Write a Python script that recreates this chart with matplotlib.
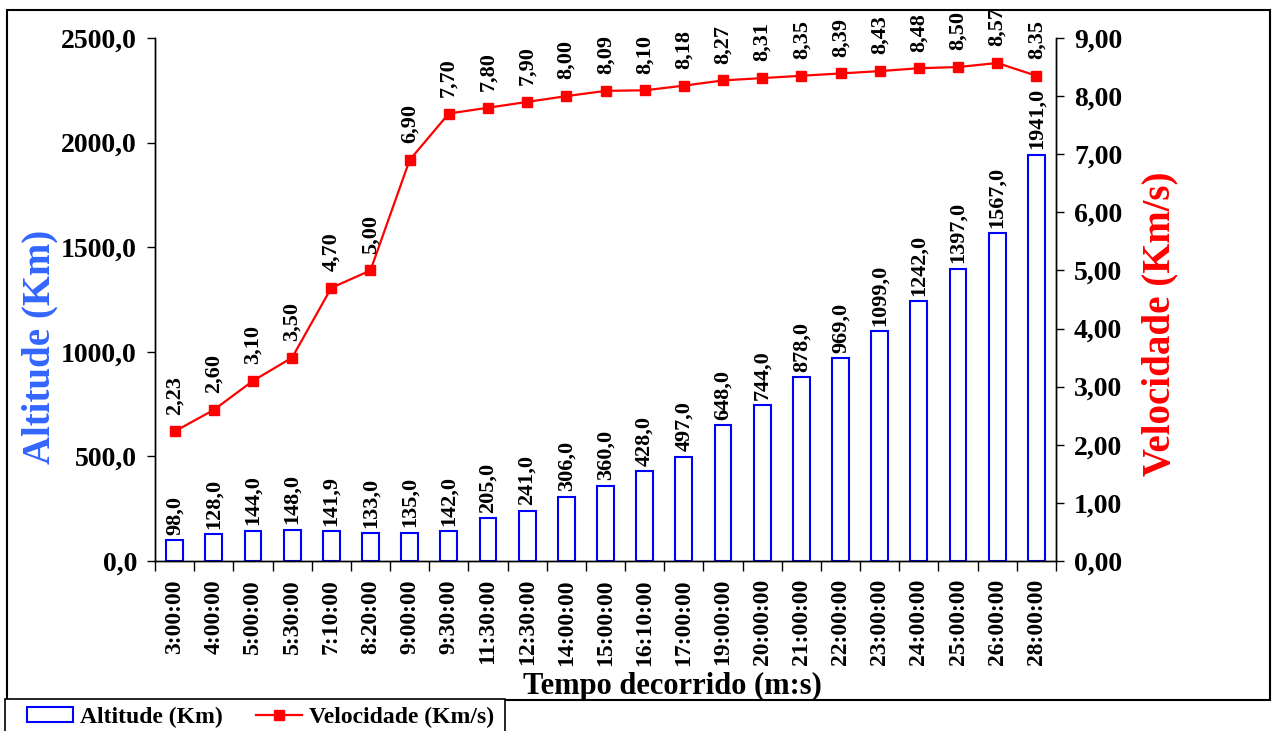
import matplotlib
matplotlib.use("Agg")
import matplotlib.pyplot as plt
from matplotlib.patches import Rectangle
from matplotlib.lines import Line2D
from matplotlib.ticker import FixedLocator, FuncFormatter

plt.rcParams['font.family'] = ['Liberation Serif', 'DejaVu Serif']
plt.rcParams['font.weight'] = 'bold'

tempos = ["3:00:00", "4:00:00", "5:00:00", "5:30:00", "7:10:00", "8:20:00", "9:00:00",
          "9:30:00", "11:30:00", "12:30:00", "14:00:00", "15:00:00", "16:10:00",
          "17:00:00", "19:00:00", "20:00:00", "21:00:00", "22:00:00", "23:00:00",
          "24:00:00", "25:00:00", "26:00:00", "28:00:00"]
altitude = [98.0, 128.0, 144.0, 148.0, 141.9, 133.0, 135.0, 142.0, 205.0, 241.0, 306.0,
            360.0, 428.0, 497.0, 648.0, 744.0, 878.0, 969.0, 1099.0, 1242.0, 1397.0,
            1567.0, 1941.0]
velocidade = [2.23, 2.60, 3.10, 3.50, 4.70, 5.00, 6.90, 7.70, 7.80, 7.90, 8.00, 8.09,
              8.10, 8.18, 8.27, 8.31, 8.35, 8.39, 8.43, 8.48, 8.50, 8.57, 8.35]

W, H = 1274, 731
fig = plt.figure(figsize=(W / 100, H / 100), dpi=100)
ax = fig.add_axes([155 / W, 1 - 561 / H, (1056 - 155) / W, (561 - 38) / H])
ax2 = ax.twinx()
ax.set_zorder(1)
ax2.set_zorder(2)
ax.patch.set_visible(False)

x = list(range(len(tempos)))
ax.bar(x, altitude, width=0.43, facecolor='white', edgecolor='#0000FF', linewidth=1.5, zorder=2)
ax.set_xlim(-0.5, len(tempos) - 0.5)
ax.set_ylim(0, 2500)
ax.set_yticks([0, 500, 1000, 1500, 2000, 2500])
ax.yaxis.set_major_formatter(FuncFormatter(lambda v, p: f"{v:.1f}".replace('.', ',')))

ax.set_xticks(x)
ax.set_xticklabels(tempos, rotation=90, fontsize=17, fontweight='bold')
ax.xaxis.set_minor_locator(FixedLocator([i - 0.5 for i in range(len(tempos) + 1)]))
ax.tick_params(axis='x', which='major', length=0, pad=13)
ax.tick_params(axis='x', which='minor', length=7, width=1, direction='out')
ax.tick_params(axis='y', length=6, width=1, direction='out', pad=7, labelsize=20)

for i, v in enumerate(altitude):
    ax.annotate(f"{v:.1f}".replace('.', ','), (i, v), xytext=(0, 4), textcoords='offset points',
                rotation=90, ha='center', va='bottom', fontsize=16, fontweight='bold')

ax2.plot(x, velocidade, color='#FF0000', linewidth=1.6, marker='s', markersize=6.5,
         markerfacecolor='#FF0000', markeredgecolor='#FF0000')
ax2.set_ylim(0, 9)
ax2.set_yticks(range(10))
ax2.yaxis.set_major_formatter(FuncFormatter(lambda v, p: f"{v:.2f}".replace('.', ',')))
ax2.tick_params(axis='y', length=6, width=1, direction='out', pad=7, labelsize=20)
for i, v in enumerate(velocidade):
    ax2.annotate(f"{v:.2f}".replace('.', ','), (i, v), xytext=(0, 12), textcoords='offset points',
                 rotation=90, ha='center', va='bottom', fontsize=16, fontweight='bold')

for a in (ax, ax2):
    a.spines['top'].set_visible(False)
    for s in ('left', 'right', 'bottom'):
        a.spines[s].set_linewidth(1)
        a.spines[s].set_color('black')
for lab in ax.get_yticklabels() + ax2.get_yticklabels():
    lab.set_fontweight('bold')

fig.text(40 / W, 1 - 347 / H, "Altitude (Km)", rotation=90, ha='center', va='center',
         fontsize=28, fontweight='bold', color='#3366FF')
fig.text(1160 / W, 1 - 324 / H, "Velocidade (Km/s)", rotation=90, ha='center', va='center',
         fontsize=28, fontweight='bold', color='#FF0000')
fig.text(672 / W, 1 - 686 / H, "Tempo decorrido (m:s)", ha='center', va='center',
         fontsize=22, fontweight='bold')

# chart border
fig.patches.append(Rectangle((7 / W, 1 - 700 / H), (1270 - 7) / W, (700 - 10) / H,
                             transform=fig.transFigure, fill=False, edgecolor='black',
                             linewidth=1.5))
# legend box
fig.patches.append(Rectangle((5 / W, 1 - 740 / H), (505 - 5) / W, (740 - 699) / H,
                             transform=fig.transFigure, facecolor='white', edgecolor='black',
                             linewidth=1.2, zorder=5))

handles = [Rectangle((0, 0), 1, 1, facecolor='white', edgecolor='#0000FF', linewidth=1.5),
           Line2D([], [], color='#FF0000', linewidth=1.6, marker='s', markersize=6.5)]
leg = fig.legend(handles, ["Altitude (Km)", "Velocidade (Km/s)"], loc='center left',
                 bbox_to_anchor=(27 / W, 1 - 717 / H), ncol=2, frameon=False,
                 prop={'family': 'Liberation Serif', 'weight': 'bold', 'size': 17},
                 handlelength=1.95, handleheight=0.6, handletextpad=0.3, columnspacing=1.4,
                 borderpad=0, borderaxespad=0)
leg.set_zorder(6)

fig.savefig("out.png", dpi=100, facecolor='white')
